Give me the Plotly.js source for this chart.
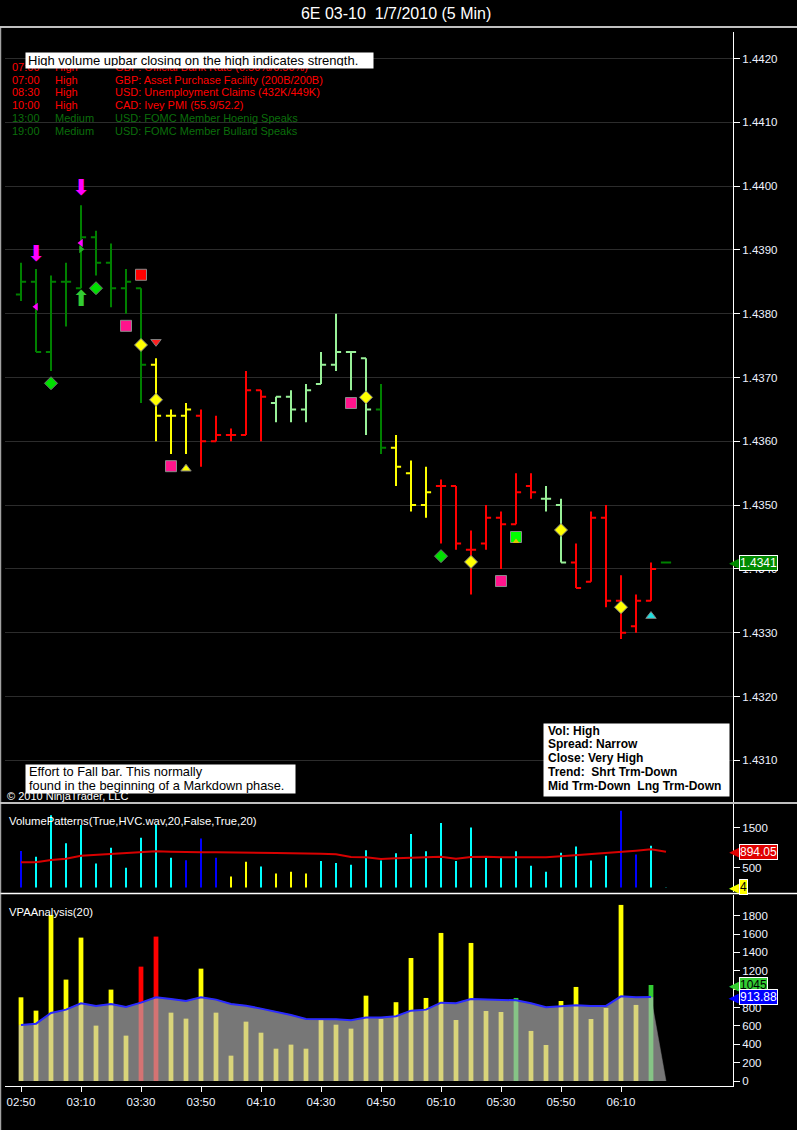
<!DOCTYPE html>
<html><head><meta charset="utf-8">
<script src="https://cdn.plot.ly/plotly-3.0.1.min.js"></script>
<style>html,body{margin:0;padding:0;background:#000;}#chart{width:797px;height:1130px;}</style>
</head><body><div id="chart"></div>
<script>
// ---------- DATA ----------
const times = ['02:50','02:55','03:00','03:05','03:10','03:15','03:20','03:25','03:30','03:35','03:40','03:45',
  '03:50','03:55','04:00','04:05','04:10','04:15','04:20','04:25','04:30','04:35','04:40','04:45','04:50','04:55',
  '05:00','05:05','05:10','05:15','05:20','05:25','05:30','05:35','05:40','05:45','05:50','05:55','06:00','06:05',
  '06:10','06:15','06:20','06:25'];
const openP  = [1.4383,1.4385,1.4374,1.4385,1.4384,1.4392,1.4388,1.4384,1.4384,1.4372,1.4364,1.4364,
  1.4364,1.4360,1.4361,1.4361,1.4368,1.4366,1.4367,1.4365,1.4369,1.4372,1.4374,1.4373,1.4365,1.4359,
  1.4355,1.4350,1.4353,1.4353,1.4343,1.4344,1.4348,1.4347,1.4353,1.4351,1.4350,1.4341,1.4338,1.4348,
  1.4335,1.4331,1.4335,1.4341];
const highP  = [1.4388,1.4387,1.4386,1.4388,1.4397,1.4393,1.4391,1.4387,1.4384,1.4373,1.4365,1.4366,
  1.4365,1.4364,1.4362,1.4371,1.4368,1.4367,1.4368,1.4369,1.4374,1.4380,1.4374,1.4373,1.4369,1.4361,
  1.4357,1.4356,1.4354,1.4353,1.4346,1.4350,1.4349,1.4355,1.4355,1.4353,1.4351,1.4344,1.4349,1.4350,
  1.4339,1.4336,1.4341,1.4341];
const lowP   = [1.4382,1.4374,1.4371,1.4378,1.4384,1.4386,1.4381,1.4380,1.4366,1.4360,1.4358,1.4358,
  1.4356,1.4360,1.4360,1.4361,1.4360,1.4363,1.4363,1.4363,1.4369,1.4371,1.4368,1.4361,1.4358,1.4353,
  1.4349,1.4348,1.4344,1.4343,1.4336,1.4343,1.4340,1.4347,1.4351,1.4349,1.4341,1.4337,1.4338,1.4334,
  1.4329,1.4330,1.4335,1.4341];
const closeP = [1.4385,1.4374,1.4385,1.4385,1.4392,1.4388,1.4384,1.4385,1.4372,1.4364,1.4364,1.4365,
  1.4360,1.4361,1.4361,1.4368,1.4367,1.4367,1.4365,1.4368,1.4372,1.4374,1.4374,1.4365,1.4359,1.4356,
  1.4350,1.4352,1.4353,1.4344,1.4343,1.4348,1.4347,1.4352,1.4352,1.4351,1.4341,1.4337,1.4348,1.4335,
  1.4330,1.4335,1.4340,1.4341];
const barClass = ['dg','dg','dg','dg','dg','dg','dg','dg','dg','y','y','y',
  'r','r','r','r','r','lg','lg','lg','lg','lg','lg','lg','dg','y',
  'y','y','r','r','r','r','r','r','r','lg','lg','r','r','r',
  'r','r','r','dg'];
const volume = [911,766,1808,1104,1561,603,995,494,1245,1572,744,679,
  1223,744,276,646,526,352,396,352,664,613,570,929,675,858,
  1339,904,1612,664,1503,762,751,904,545,392,871,1024,675,795,
  1917,828,1045,4];
const volClass = ['b','c','c','c','c','c','c','c','c','c','c','b',
  'b','b','y','y','c','y','y','y','c','c','c','c','c','c',
  'c','c','c','c','c','c','c','c','c','c','c','c','c','c',
  'b','b','c','c'];
const volAvg = [630,630,688,721,796,821,846,871,887,904,896,879,
  879,879,879,879,879,862,854,854,846,829,762,754,712,733,
  737,754,771,721,762,771,754,754,771,754,779,804,829,854,
  896,921,954,894.05];
const vpaAvg = [610,624,741,777,846,817,839,806,853,911,893,871,
  911,886,839,820,788,755,719,675,675,672,661,690,690,706,
  766,777,853,846,893,889,878,878,846,802,813,824,817,817,
  922,911,913.88];
const vpaArea = [610,624,741,777,846,817,839,806,853,911,893,871,
  911,886,839,820,788,755,719,675,675,672,661,690,690,706,
  766,777,853,846,893,889,878,878,846,802,813,824,817,817,
  922,911,913.88,0];
const vpaClass = ['y','y','y','y','y','y','y','y','r','r','y','y',
  'y','y','y','y','y','y','y','y','y','y','y','y','y','y',
  'y','y','y','y','y','y','y','g','y','y','y','y','y','y',
  'y','y','g','y'];
const timeTicks = ['02:50','03:10','03:30','03:50','04:10','04:30','04:50','05:10','05:30','05:50','06:10'];
const priceTicks = [1.4310,1.4320,1.4330,1.4340,1.4350,1.4360,1.4370,1.4380,1.4390,1.4400,1.4410,1.4420];
const priceTickText = ['1.4310','1.4320','1.4330','1.4340','1.4350','1.4360','1.4370','1.4380','1.4390','1.4400','1.4410','1.4420'];
const volTicks = [500,1500];
const vpaTicks = [0,200,400,600,800,1000,1200,1400,1600,1800];
const vpaTickText = ['0','200','400','600','800','','1200','1400','1600','1800'];
// signal markers
const magDownT = ['02:55','03:10'],  magDownP = [1.43892,1.43994];
const magLeftT = ['02:55','03:10'],  magLeftP = [1.43811,1.43911];
const grnRightT = ['03:10'],         grnRightP = [1.43901];
const grnUpT = ['03:10'],            grnUpP = [1.43821];
const grnDiaT = ['03:00','03:15','05:10'], grnDiaP = [1.43691,1.43840,1.43420];
const redSqT = ['03:30'],            redSqP = [1.43861];
const pinkSqT = ['03:25','03:40','04:40','05:30'], pinkSqP = [1.43781,1.43561,1.43660,1.43381];
const yelDiaT = ['03:30','03:35','04:45','05:20','05:50','06:10'], yelDiaP = [1.43751,1.43665,1.43669,1.43411,1.43461,1.43340];
const redTriDnT = ['03:35'],         redTriDnP = [1.43756];
const yelTriUpT = ['03:45'],         yelTriUpP = [1.43557];
const grnSqT = ['05:35'],            grnSqP = [1.43450];
const smallYelTriT = ['05:35'],      smallYelTriP = [1.43443];
const cyanTriT = ['06:20'],          cyanTriP = [1.43326];
// news table
const newsTime = ['07:00','07:00','08:30','10:00','13:00','19:00'];
const newsImpact = ['High','High','High','High','Medium','Medium'];
const newsText = ['GBP: Official Bank Rate (0.50%/0.50%)','GBP: Asset Purchase Facility (200B/200B)',
  'USD: Unemployment Claims (432K/449K)','CAD: Ivey PMI (55.9/52.2)',
  'USD: FOMC Member Hoenig Speaks','USD: FOMC Member Bullard Speaks'];
const infoLines = ['Vol: High','Spread: Narrow','Close: Very High','Trend:\u00a0\u00a0Shrt Trm-Down','Mid Trm-Down\u00a0\u00a0Lng Trm-Down'];
const effortLines = ['Effort to Fall bar. This normally','found in the beginning of a Markdown phase.'];

// ---------- BUILD ----------
const W = 797, H = 1130;
const px = v => v / W, py = v => 1 - v / H;
const D = t => '2010-01-07 ' + t + ':00';
const X = times.map(D);
const FONT = 'Arial, "Liberation Sans", sans-serif';

const ohlcColors = {dg:'#008000', y:'#ffff00', r:'#ff0000', lg:'#98f098'};
const traces = [];
Object.keys(ohlcColors).forEach(cls => {
  const idx = barClass.map((c,i)=>c===cls?i:-1).filter(i=>i>=0);
  const col = ohlcColors[cls];
  traces.push({type:'ohlc', xaxis:'x', yaxis:'y', hoverinfo:'skip',
    x: idx.map(i=>X[i]), open: idx.map(i=>openP[i]), high: idx.map(i=>highP[i]),
    low: idx.map(i=>lowP[i]), close: idx.map(i=>closeP[i]), tickwidth:0.34,
    increasing:{line:{color:col,width:2}}, decreasing:{line:{color:col,width:2}}});
});
function mk(T,P,symbol,size,color,lineColor,lineW){
  return {type:'scatter', mode:'markers', xaxis:'x', yaxis:'y', hoverinfo:'skip',
    x:T.map(D), y:P, marker:{symbol:symbol,size:size,color:color,line:{color:lineColor||color,width:lineW||0}}};
}
function txt(T,P,ch,size,color){
  return {type:'scatter', mode:'text', xaxis:'x', yaxis:'y', hoverinfo:'skip',
    x:T.map(D), y:P, text:T.map(()=>ch), textposition:'middle center',
    textfont:{family:'"DejaVu Sans"', size:size, color:color}};
}
traces.push(txt(magDownT,magDownP,'\u2B07',22,'#ff00ff'));
traces.push(txt(grnUpT,grnUpP,'\u2B06',22,'#33cc33'));
traces.push(mk(magLeftT,magLeftP,'triangle-left',7,'#ff00ff'));
traces.push(mk(grnRightT,grnRightP,'triangle-right',7,'#22b022'));
traces.push(mk(grnDiaT,grnDiaP,'diamond',10,'#00e000','#707070',1));
traces.push(mk(redSqT,redSqP,'square',11,'#ff0000','#8a8a8a',1));
traces.push(mk(pinkSqT,pinkSqP,'square',11,'#ff148c','#8a8a8a',1));
traces.push(mk(yelDiaT,yelDiaP,'diamond',10,'#ffff00','#808080',1));
traces.push(mk(redTriDnT,redTriDnP,'triangle-down',9,'#ff2020','#808080',1));
traces.push(mk(yelTriUpT,yelTriUpP,'triangle-up',9,'#ffff00','#808080',1));
traces.push(mk(grnSqT,grnSqP,'square',11,'#00ff00','#8a8a8a',1));
traces.push(mk(smallYelTriT,smallYelTriP,'triangle-up',6,'#e0c000'));
traces.push(mk(cyanTriT,cyanTriP,'triangle-up',9,'#20e0e0','#808080',1));

// volume panel
const volColors = {b:'#0000ff', c:'#00ffff', y:'#ffff00'};
traces.push({type:'bar', xaxis:'x', yaxis:'y2', hoverinfo:'skip', x:X, y:volume, width:40000,
  marker:{color:volClass.map(c=>volColors[c]), line:{width:0}}});
traces.push({type:'scatter', mode:'lines', xaxis:'x', yaxis:'y2', hoverinfo:'skip', x:X, y:volAvg,
  line:{color:'#d80000', width:2}});

// VPA panel
traces.push({type:'scatter', mode:'lines', xaxis:'x', yaxis:'y3', hoverinfo:'skip', x:X, y:vpaArea,
  fill:'tozeroy', fillcolor:'#777777', line:{color:'#777777', width:0.5}});
const pale = {y:'#d9d47a', r:'#d47373', g:'#86c486'};
const bright = {y:'#ffff00', r:'#ff0000', g:'#33cc33'};
const vpaLower = volume.map((v,i)=> i<vpaAvg.length ? Math.min(v, vpaAvg[i]) : 0);
const vpaUpper = volume.map((v,i)=> i<vpaAvg.length ? Math.max(0, v - vpaAvg[i]) : 0);
traces.push({type:'bar', xaxis:'x', yaxis:'y4', hoverinfo:'skip', x:X, y:vpaLower, width:95000,
  marker:{color:vpaClass.map(c=>pale[c]), line:{width:0}}});
traces.push({type:'bar', xaxis:'x', yaxis:'y4', hoverinfo:'skip', x:X, y:vpaUpper,
  base: vpaLower, width:95000,
  marker:{color:vpaClass.map(c=>bright[c]), line:{width:0}}});
traces.push({type:'scatter', mode:'lines', xaxis:'x', yaxis:'y4', hoverinfo:'skip',
  x:X.slice(0,vpaAvg.length), y:vpaAvg, line:{color:'#2a2aff', width:2}});

// annotations
const ann = [];
const newsRowY = [66.5, 79.5, 92, 104.5, 118, 130.5];
newsTime.forEach((t,i)=>{
  const col = newsImpact[i]==='High' ? '#ff0000' : '#0b6e0b';
  [[t,10],[newsImpact[i],53],[newsText[i],113]].forEach(([s,xx])=>{
    ann.push({xref:'paper', yref:'paper', x:px(xx), y:py(newsRowY[i]), xanchor:'left', yanchor:'middle',
      text:s, showarrow:false, font:{family:FONT, size:11, color:col}});
  });
});
ann.push({xref:'paper', yref:'paper', x:px(25), y:py(52), xanchor:'left', yanchor:'top',
  text:'High volume upbar closing on the high indicates strength.', showarrow:false, align:'left',
  bgcolor:'#ffffff', width:343, height:11, borderpad:2, font:{family:FONT, size:13, color:'#000'}});
ann.push({xref:'paper', yref:'paper', x:px(5), y:py(795.5), xanchor:'left', yanchor:'middle',
  text:'\u00a9 2010 NinjaTrader, LLC', showarrow:false, font:{family:FONT, size:11, color:'#ffffff'}});
ann.push({xref:'paper', yref:'paper', x:px(25), y:py(764), xanchor:'left', yanchor:'top', text:' ',
  showarrow:false, bgcolor:'#ffffff', width:269, height:28, borderpad:0});
effortLines.forEach((s,i)=>ann.push({xref:'paper', yref:'paper', x:px(27), y:py(771.5+i*14.3),
  xanchor:'left', yanchor:'middle', text:s, showarrow:false, font:{family:FONT, size:12.8, color:'#000'}}));
ann.push({xref:'paper', yref:'paper', x:px(543), y:py(723), xanchor:'left', yanchor:'top', text:' ',
  showarrow:false, bgcolor:'#ffffff', width:185, height:72, borderpad:0});
infoLines.forEach((s,i)=>ann.push({xref:'paper', yref:'paper', x:px(546), y:py(730.5+i*13.9),
  xanchor:'left', yanchor:'middle', text:'<b>'+s+'</b>', showarrow:false, font:{family:FONT, size:12, color:'#000'}}));
ann.push({xref:'paper', yref:'paper', x:px(7), y:py(821), xanchor:'left', yanchor:'middle',
  text:'VolumePatterns(True,HVC.wav,20,False,True,20)', showarrow:false, font:{family:FONT, size:11.3, color:'#ffffff'}});
ann.push({xref:'paper', yref:'paper', x:px(7), y:py(912), xanchor:'left', yanchor:'middle',
  text:'VPAAnalysis(20)', showarrow:false, font:{family:FONT, size:11.3, color:'#ffffff'}});
function tag(yref, yv, label, bg, fg){
  ann.push({xref:'paper', yref:yref, x:px(741), y:yv, xanchor:'right', yanchor:'middle', text:'\u25C0',
    showarrow:false, font:{family:'"DejaVu Sans"', size:13, color:bg}});
  ann.push({xref:'paper', yref:yref, x:px(739), y:yv, xanchor:'left', yanchor:'middle', text:label,
    showarrow:false, bgcolor:bg, bordercolor:'#ffffff', borderwidth:1, borderpad:0,
    font:{family:FONT, size:12, color:fg}});
}
tag('y', closeP[closeP.length-1], closeP[closeP.length-1].toFixed(4), '#008a00', '#ffffff');
tag('y2', volAvg[volAvg.length-1], volAvg[volAvg.length-1].toFixed(2), '#e00000', '#ffffff');
tag('y2', volume[volume.length-1], String(volume[volume.length-1]), '#ffff00', '#000000');
tag('y3', volume[volume.length-2], String(volume[volume.length-2]), '#33cc33', '#000000');
tag('y3', vpaAvg[vpaAvg.length-1], vpaAvg[vpaAvg.length-1].toFixed(2), '#0000ff', '#ffffff');

const shapes = [
  {type:'line', xref:'paper', yref:'paper', x0:0, x1:1, y0:py(27), y1:py(27), line:{color:'#ffffff', width:1.5}},
  {type:'line', xref:'paper', yref:'paper', x0:0, x1:1, y0:py(803), y1:py(803), line:{color:'#ffffff', width:1.5}},
  {type:'line', xref:'paper', yref:'paper', x0:0, x1:1, y0:py(893.5), y1:py(893.5), line:{color:'#ffffff', width:1.5}},
  {type:'line', xref:'paper', yref:'paper', x0:px(0.7), x1:px(0.7), y0:py(27), y1:0, line:{color:'#c8c8c8', width:1}}
];

const axCommon = {side:'right', anchor:'x', showline:true, linecolor:'#ffffff', linewidth:1,
  ticks:'outside', ticklen:6, tickcolor:'#ffffff', zeroline:false, fixedrange:true,
  tickfont:{family:FONT, size:11.5, color:'#eef3ff'}};
const layout = {
  width:W, height:H, margin:{l:0,r:0,t:0,b:0}, paper_bgcolor:'#000000', plot_bgcolor:'#000000',
  showlegend:false, barmode:'overlay', dragmode:false, hovermode:false,
  font:{family:FONT, color:'#ffffff'},
  title:{text:'6E 03-10\u00a0\u00a01/7/2010 (5 Min)', font:{family:FONT, size:16, color:'#ffffff'},
    x:0.497, xanchor:'center', y:py(13), yanchor:'middle'},
  xaxis:{type:'date', domain:[px(5),px(733)], range:['2010-01-07 02:44:40','2010-01-07 06:47:20'],
    anchor:'y3', showline:true, linecolor:'#ffffff', linewidth:1, ticks:'outside', ticklen:5, tickcolor:'#ffffff',
    tickmode:'array', tickvals:timeTicks.map(D), ticktext:timeTicks, showgrid:false, zeroline:false,
    rangeslider:{visible:false}, tickfont:{family:FONT, size:11.5, color:'#eef3ff'}},
  yaxis:Object.assign({}, axCommon, {domain:[py(802),py(32)], range:[1.4303464,1.4424154],
    tickvals:priceTicks, ticktext:priceTickText, showgrid:true, gridcolor:'#2c2c2c', gridwidth:1}),
  yaxis2:Object.assign({}, axCommon, {domain:[py(892),py(804)], range:[-112.5,2087.5],
    tickvals:volTicks, showgrid:false}),
  yaxis3:Object.assign({}, axCommon, {domain:[py(1086),py(895)], range:[-54.4,2024.9],
    tickvals:vpaTicks, ticktext:vpaTickText, showgrid:false}),
  yaxis4:{overlaying:'y3', anchor:'x', side:'right', range:[-54.4,2024.9], visible:false, fixedrange:true},
  annotations:ann, shapes:shapes
};
Plotly.newPlot('chart', traces, layout, {staticPlot:true, displayModeBar:false});
</script></body></html>
